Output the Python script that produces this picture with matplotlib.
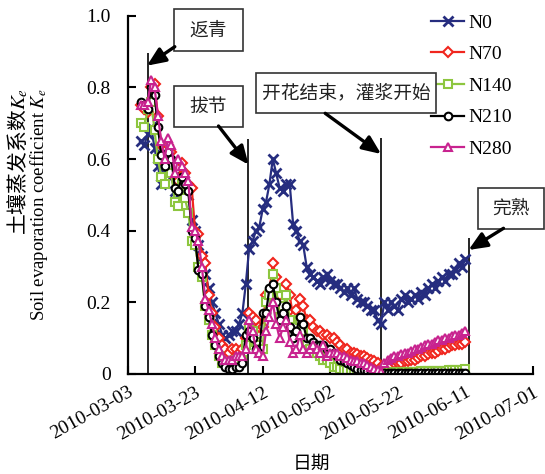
import numpy as np
import pandas as pd
import matplotlib
matplotlib.use('Agg')
import matplotlib.pyplot as plt
from matplotlib.patches import Rectangle, FancyArrowPatch

plt.rcParams['font.family'] = ['Liberation Serif', 'Noto Sans CJK SC']
plt.rcParams['mathtext.fontset'] = 'stix'

# ----------------------------
# Data (daily Ke, 2010-03-07 .. 2010-06-11)
# ----------------------------
dates = pd.date_range('2010-03-07', '2010-06-11', freq='D')

n0 = [0.65, 0.64, 0.67, 0.69, 0.63, 0.58, 0.53, 0.56, 0.58, 0.55,
      0.51, 0.50, 0.55, 0.52, 0.50, 0.43, 0.40, 0.36, 0.33, 0.28,
      0.24, 0.20, 0.17, 0.14, 0.11, 0.10, 0.11, 0.12, 0.12, 0.14,
      0.17, 0.25, 0.35, 0.37, 0.40, 0.41, 0.46, 0.48, 0.53, 0.60,
      0.56, 0.52, 0.51, 0.53, 0.53, 0.42, 0.40, 0.37, 0.36, 0.30,
      0.28, 0.27, 0.26, 0.25, 0.27, 0.28, 0.26, 0.25, 0.25, 0.24,
      0.23, 0.24, 0.22, 0.24, 0.21, 0.20, 0.20, 0.19, 0.18, 0.18,
      0.15, 0.14, 0.20, 0.18, 0.20, 0.19, 0.18, 0.21, 0.22, 0.20,
      0.21, 0.22, 0.21, 0.23, 0.22, 0.24, 0.25, 0.24, 0.26, 0.27,
      0.26, 0.28, 0.28, 0.29, 0.31, 0.30, 0.32]

n70 = [0.75, 0.74, 0.73, 0.80, 0.81, 0.72, 0.64, 0.59, 0.64, 0.62,
       0.55, 0.54, 0.59, 0.56, 0.53, 0.52, 0.40, 0.39, 0.33, 0.31,
       0.22, 0.17, 0.13, 0.10, 0.08, 0.07, 0.06, 0.07, 0.07, 0.06,
       0.07, 0.10, 0.17, 0.16, 0.15, 0.13, 0.13, 0.22, 0.23, 0.31,
       0.27, 0.22, 0.24, 0.25, 0.22, 0.16, 0.18, 0.21, 0.19, 0.15,
       0.15, 0.13, 0.12, 0.12, 0.11, 0.11, 0.10, 0.10, 0.09, 0.08,
       0.07, 0.07, 0.06, 0.06, 0.055, 0.05, 0.05, 0.045, 0.04, 0.035,
       0.03, 0.02, 0.02, 0.025, 0.025, 0.03, 0.03, 0.03, 0.035, 0.035,
       0.04, 0.04, 0.045, 0.05, 0.05, 0.055, 0.06, 0.06, 0.065, 0.07,
       0.07, 0.075, 0.08, 0.08, 0.085, 0.085, 0.09]

n140 = [0.70, 0.69, 0.74, 0.76, 0.68, 0.60, 0.55, 0.53, 0.58, 0.56,
        0.48, 0.47, 0.53, 0.49, 0.45, 0.37, 0.36, 0.30, 0.27, 0.19,
        0.15, 0.11, 0.08, 0.05, 0.03, 0.03, 0.03, 0.03, 0.04, 0.04,
        0.04, 0.08, 0.13, 0.12, 0.09, 0.08, 0.07, 0.20, 0.22, 0.28,
        0.24, 0.16, 0.19, 0.22, 0.15, 0.11, 0.13, 0.15, 0.12, 0.09,
        0.07, 0.07, 0.06, 0.05, 0.04, 0.04, 0.03, 0.02, 0.02, 0.015,
        0.01, 0.01, 0.008, 0.006, 0.005, 0.005, 0.004, 0.004, 0.003, 0.003,
        0.003, 0.003, 0.004, 0.004, 0.004, 0.005, 0.005, 0.005, 0.005, 0.006,
        0.006, 0.006, 0.006, 0.007, 0.007, 0.007, 0.008, 0.008, 0.008, 0.009,
        0.009, 0.010, 0.010, 0.011, 0.011, 0.012, 0.013]

n210 = [0.76, 0.75, 0.74, 0.80, 0.78, 0.69, 0.61, 0.58, 0.62, 0.60,
        0.52, 0.51, 0.55, 0.53, 0.51, 0.40, 0.38, 0.29, 0.28, 0.19,
        0.16, 0.11, 0.08, 0.05, 0.03, 0.02, 0.015, 0.015, 0.02, 0.02,
        0.03, 0.11, 0.12, 0.10, 0.07, 0.06, 0.17, 0.17, 0.24, 0.25,
        0.20, 0.15, 0.17, 0.19, 0.13, 0.10, 0.12, 0.16, 0.14, 0.10,
        0.10, 0.09, 0.08, 0.08, 0.08, 0.07, 0.07, 0.06, 0.05, 0.04,
        0.035, 0.03, 0.025, 0.02, 0.015, 0.012, 0.01, 0.008, 0.006, 0.005,
        0.004, 0.003, 0.003, 0.003, 0.003, 0.003, 0.003, 0.003, 0.003, 0.003,
        0.003, 0.003, 0.003, 0.003, 0.003, 0.003, 0.003, 0.003, 0.003, 0.003,
        0.003, 0.003, 0.003, 0.003, 0.003, 0.003, 0.003]

n280 = [0.75, 0.75, 0.76, 0.82, 0.80, 0.72, 0.65, 0.60, 0.66, 0.64,
        0.56, 0.60, 0.58, 0.56, 0.54, 0.41, 0.40, 0.37, 0.30, 0.21,
        0.18, 0.14, 0.10, 0.07, 0.05, 0.04, 0.04, 0.04, 0.05, 0.05,
        0.05, 0.07, 0.15, 0.12, 0.07, 0.06, 0.05, 0.12, 0.16, 0.20,
        0.14, 0.10, 0.13, 0.15, 0.09, 0.06, 0.07, 0.11, 0.07, 0.06,
        0.07, 0.08, 0.07, 0.06, 0.08, 0.05, 0.06, 0.06, 0.06, 0.05,
        0.05, 0.045, 0.04, 0.035, 0.035, 0.03, 0.03, 0.025, 0.02, 0.015,
        0.01, 0.005, 0.03, 0.04, 0.045, 0.05, 0.05, 0.055, 0.06, 0.06,
        0.065, 0.07, 0.07, 0.075, 0.08, 0.085, 0.085, 0.09, 0.095, 0.095,
        0.10, 0.10, 0.105, 0.11, 0.11, 0.115, 0.12]

labels = ['N0', 'N70', 'N140', 'N210', 'N280']
colors = ['#262D7F', '#F0261E', '#8DC63F', '#000000', '#C8238F']
markers = ['x', 'D', 's', 'o', '^']

xtick_dates = pd.date_range('2010-03-03', '2010-07-01', freq='20D')
xtick_labels = ['2010-03-03', '2010-03-23', '2010-04-12', '2010-05-02',
                '2010-05-22', '2010-06-11', '2010-07-01']

stage_names = ['返青', '拔节', '开花结束，灌浆开始', '完熟']
stage_dates = pd.to_datetime(['2010-03-09 00:00', '2010-04-07 14:00',
                              '2010-05-17 00:00', '2010-06-12 00:00'])
stage_tops = [0.896, 0.655, 0.66, 0.379]

# ----------------------------
# Figure
# ----------------------------
W, H = 545, 474
fig = plt.figure(figsize=(W / 100, H / 100), dpi=100)
ax = fig.add_axes([127.5 / W, 100 / H, 405.5 / W, 358.3 / H])


def px(x, y):
    # pixel position (from top-left) -> figure fraction
    return (x / W, 1 - y / H)


for lab, vals, c, m in zip(labels, [n0, n70, n140, n210, n280], colors, markers):
    if m == 'x':
        ax.plot(dates, vals, color=c, lw=1.6, marker=m, ms=6.5, mew=2, label=lab)
    else:
        ax.plot(dates, vals, color=c, lw=1.6, marker=m, ms=5.5, mew=1.5,
                mfc='white', label=lab)

ax.vlines(stage_dates, 0, stage_tops, color='black', lw=1.2, zorder=1)

ax.set_xlim(xtick_dates[0], xtick_dates[-1])
ax.set_ylim(0, 1.0)
ax.set_xticks(xtick_dates)
ax.set_xticklabels(xtick_labels)
ax.set_yticks([0, 0.2, 0.4, 0.6, 0.8, 1.0])
ax.set_yticklabels(['0', '0.2', '0.4', '0.6', '0.8', '1.0'])

for s in ['top', 'right']:
    ax.spines[s].set_visible(False)
for s in ['left', 'bottom']:
    ax.spines[s].set_linewidth(1.6)
ax.tick_params(axis='both', direction='in', length=6, width=1.5)
ax.tick_params(axis='y', pad=12, labelsize=14)
ax.tick_params(axis='x', pad=7, labelsize=14, labelrotation=29)
fig.canvas.draw()
for lbl in ax.get_xticklabels():
    lbl.set_ha('right')
    lbl.set_va('top')
    lbl.set_rotation_mode('anchor')

leg = ax.legend(loc='upper left', bbox_to_anchor=px(431, 14), bbox_transform=fig.transFigure,
                frameon=False, fontsize=14, handlelength=1.7, handletextpad=0.2,
                labelspacing=0.72, borderpad=0, borderaxespad=0, numpoints=1)

# axis titles
fig.text(17.5 / W, 1 - 88 / H, '土壤蒸发系数$K_e$', rotation=90, ha='center', va='top',
         fontsize=15, family=['Noto Sans CJK SC'], weight='light')
fig.text(39.5 / W, 1 - 88 / H, 'Soil evaporation coefficient $K_e$', rotation=90,
         ha='center', va='top', fontsize=13.5)
fig.text(311 / W, 1 - 463 / H, '日期', ha='center', va='center', fontsize=13.5,
         family=['Noto Sans CJK SC'], weight='light')

# stage boxes and arrows
boxes = [(174.1, 9, 243, 50.7), (174.1, 85.7, 243, 127),
         (256.3, 72.7, 436, 113.3), (477.6, 187.7, 544.4, 229)]
arrows = [((174.8, 46.7), (146.9, 65.7)), ((218.5, 126), (248.6, 164.7)),
          ((325.2, 113.3), (381.1, 154)), ((503.5, 228.3), (468.5, 250))]

for name, (x0, y0, x1, y1), (tail, tip) in zip(stage_names, boxes, arrows):
    fig.add_artist(Rectangle(px(x0, y1), (x1 - x0) / W, (y1 - y0) / H,
                             transform=fig.transFigure, fill=True, fc='white',
                             ec='#333333', lw=1.2))
    cx, cy = px((x0 + x1) / 2, (y0 + y1) / 2)
    fig.text(cx, cy, name, ha='center', va='center', fontsize=13.5,
             family=['Noto Sans CJK SC'], weight='light', color='#222222')
    fig.add_artist(FancyArrowPatch(px(*tail), px(*tip), transform=fig.transFigure,
                                   arrowstyle='-|>,head_length=0.7,head_width=0.3',
                                   mutation_scale=16, lw=2.4, color='black',
                                   shrinkA=0, shrinkB=0))

fig.savefig('out.png', dpi=100)
